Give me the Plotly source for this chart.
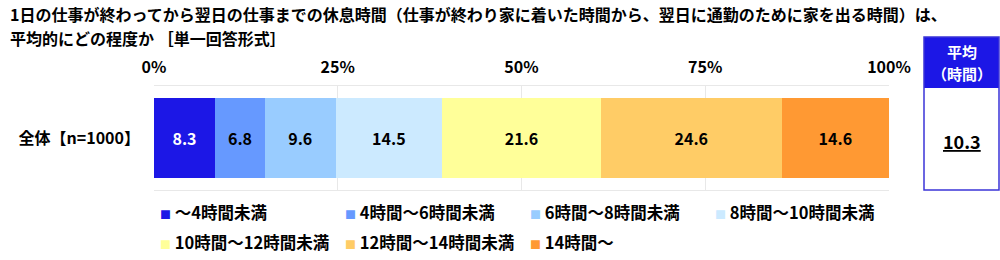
import plotly.graph_objects as go

W, H = 1000, 260
FONT = "Noto Sans CJK JP"

title_lines = [
    "1日の仕事が終わってから翌日の仕事までの休息時間（仕事が終わり家に着いた時間から、翌日に通勤のために家を出る時間）は、",
    "平均的にどの程度か ［単一回答形式］",
]
group_label = "全体【n=1000】"
categories = ["～4時間未満", "4時間～6時間未満", "6時間～8時間未満", "8時間～10時間未満",
              "10時間～12時間未満", "12時間～14時間未満", "14時間～"]
values = [8.3, 6.8, 9.6, 14.5, 21.6, 24.6, 14.6]
colors = ["#1c17e6", "#6699ff", "#99ccff", "#cceaff", "#ffff99", "#ffcc66", "#ff9933"]
text_colors = ["#ffffff", "#000000", "#000000", "#000000", "#000000", "#000000", "#000000"]
tick_vals = [0, 25, 50, 75, 100]
tick_text = ["0%", "25%", "50%", "75%", "100%"]
avg_header_lines = ["平均", "（時間）"]
avg_value = 10.3

fig = go.Figure()
for name, v, c, tc in zip(categories, values, colors, text_colors):
    fig.add_trace(go.Bar(
        y=[group_label], x=[v], name=name, orientation="h",
        marker=dict(color=c, line=dict(width=0)),
        text=[f"{v:.1f}"], textposition="inside", insidetextanchor="middle",
        textfont=dict(family=FONT, size=16, color=tc, weight=700),
        showlegend=False, hoverinfo="skip",
    ))

x0, x1 = 154 / W, 889 / W
y_top, y_bot = 86, 190
fig.update_layout(
    width=W, height=H, barmode="stack", bargap=0.24,
    margin=dict(l=0, r=0, t=0, b=0, autoexpand=False),
    paper_bgcolor="white", plot_bgcolor="white",
    font=dict(family=FONT, size=15, color="#000000"),
    xaxis=dict(domain=[x0, x1], range=[0, 100], side="top", automargin=False,
               tickvals=tick_vals, ticktext=tick_text, ticks="",
               ticklabelstandoff=6,
               showgrid=True, gridcolor="#e8e8e8", gridwidth=1,
               showline=True, mirror=True, linecolor="#e8e8e8", linewidth=1,
               zeroline=False, fixedrange=True,
               tickfont=dict(family=FONT, size=16, weight=700)),
    yaxis=dict(domain=[1 - y_bot / H, 1 - y_top / H], ticks="", automargin=False,
               showline=False, ticklabelstandoff=13,
               tickfont=dict(family=FONT, size=16, weight=700)),
)

# Title
for i, line in enumerate(title_lines):
    fig.add_annotation(x=8 / W, y=1 - (14 + 24 * i) / H, xref="paper", yref="paper",
                       text=line, showarrow=False, xanchor="left", yanchor="middle",
                       font=dict(family=FONT, size=16, weight=700))

# Average box
bx0, bx1 = 924 / W, 999 / W
fig.add_shape(type="rect", xref="paper", yref="paper", x0=bx0, x1=bx1,
              y0=1 - 88 / H, y1=1 - 37 / H, fillcolor="#1c17e6", line=dict(width=0))
fig.add_shape(type="rect", xref="paper", yref="paper", x0=bx0, x1=bx1,
              y0=1 - 190 / H, y1=1 - 37 / H, fillcolor="rgba(0,0,0,0)",
              line=dict(color="#3b35d8", width=1.5))
for i, t in enumerate(avg_header_lines):
    fig.add_annotation(x=(bx0 + bx1) / 2, y=1 - (52 + 21 * i) / H, xref="paper", yref="paper",
                       text=t, showarrow=False, xanchor="center", yanchor="middle",
                       font=dict(family=FONT, size=15, color="white", weight=700))
fig.add_annotation(x=(bx0 + bx1) / 2, y=1 - 141 / H, xref="paper", yref="paper",
                   text=f"<u>{avg_value:.1f}</u>", showarrow=False,
                   xanchor="center", yanchor="middle",
                   font=dict(family=FONT, size=18, weight=700))

# Legend
cols = [158, 343, 528, 713]
for i, (name, c) in enumerate(zip(categories, colors)):
    row, col = divmod(i, 4)
    fig.add_annotation(x=cols[col] / W, y=1 - (212 + 30 * row) / H, xref="paper", yref="paper",
                       text=f"<span style='color:{c};font-size:11px'>■</span> {name}",
                       showarrow=False, xanchor="left", yanchor="middle",
                       font=dict(family=FONT, size=16.5, weight=700))

fig.write_html("out.html")
